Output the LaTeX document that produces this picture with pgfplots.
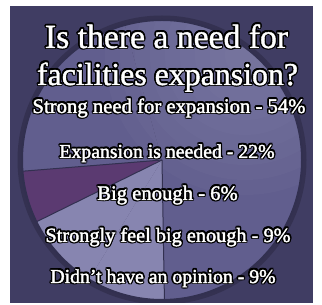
\documentclass[border=0pt]{standalone}
\usepackage{pgfplots}
\pgfplotsset{compat=1.18}
\usepackage{pgfplotstable}
\usepackage{fontspec}
\setmainfont{Liberation Serif}

\definecolor{bgc}{RGB}{64,61,99}
\definecolor{sliceA}{RGB}{97,94,142}
\definecolor{sliceB}{RGB}{91,58,113}
\definecolor{sliceC}{RGB}{135,133,176}
\definecolor{edgec}{RGB}{50,48,80}

% pie data: label, percent, colour, draw edge at slice start, label width, label centre x, label baseline y (picture px, y up)
\pgfplotstableread[col sep=comma]{
label,pct,col,edge,w,cx,by
Strong need for expansion,54,sliceA,1,274,169,192
Expansion is needed,22,sliceA,0,216,167,147
Big enough,6,sliceB,1,141,167.5,105
Strongly feel big enough,9,sliceC,1,246,168,63
Didn’t have an opinion,9,sliceC,0,226,163,22
}\piedata

\newlength\tmpw
\newsavebox\tmpbox
\newcommand\outlined[4]{% x, y, width, text
  \pgfinterruptpicture
    \global\setbox\tmpbox=\hbox{\normalfont\fontsize{10}{12}\selectfont #4}%
  \endpgfinterruptpicture
  \tmpw=\wd\tmpbox
  \pgfmathsetmacro\fs{10*#3/\tmpw}%
  \foreach \a in {0,22.5,...,337.5}{%
    \node[anchor=base,inner sep=0pt,text=black,shift={(\a:1.6bp)}] at (axis cs:#1,#2)
      {\fontsize{\fs}{\fs}\selectfont #4};}
  \node[anchor=base,inner sep=0pt,text=white] at (axis cs:#1,#2)
    {\fontsize{\fs}{\fs}\selectfont\special{pdf:literal direct 2 Tr 0.4 w 1 j 1 1 1 RG}#4\special{pdf:literal direct 0 Tr}};
}

\begin{document}
\begin{tikzpicture}
\path[use as bounding box] (0,0) rectangle (322bp,305bp);
\fill[white] (0,0) rectangle (322bp,305bp);
\begin{axis}[
  at={(0,0)}, anchor=south west,
  scale only axis, width=322bp, height=305bp,
  xmin=0, xmax=322, ymin=0, ymax=305,
  hide axis, clip=false,
]
\addplot[draw=none] coordinates {(0,0)};
\pgfplotsextra{
  \fill[bgc] (axis cs:10,2) rectangle (axis cs:313,299);
  \begin{scope}
  \clip (axis cs:10,2) rectangle (axis cs:313,299);
  % soft shadow ring
  \draw[black,opacity=0.18,line width=7bp] (axis cs:162,145) circle (141bp);
  % slices
  \pgfmathsetmacro\cum{-89}
  \pgfplotsforeachungrouped \i in {0,...,4}{%
    \pgfplotstablegetelem{\i}{pct}\of\piedata \let\slicepct\pgfplotsretval
    \pgfplotstablegetelem{\i}{col}\of\piedata \let\slicecol\pgfplotsretval
    \pgfmathsetmacro\endang{\cum+3.6*\slicepct}
    \fill[fill=\slicecol] (axis cs:162,145) -- ++(\cum:140bp) arc[start angle=\cum, end angle=\endang, radius=140bp] -- cycle;
    \let\cum\endang
  }
  % highlight top right
  \begin{scope}
    \clip (axis cs:162,145) circle (140bp);
    \foreach \r in {20,35,...,140}{\fill[white,opacity=0.02] (axis cs:245,250) circle (\r bp);}
  \end{scope}
  % edges between differently coloured slices
  \pgfmathsetmacro\cum{-89}
  \pgfplotsforeachungrouped \i in {0,...,4}{%
    \pgfplotstablegetelem{\i}{pct}\of\piedata \let\slicepct\pgfplotsretval
    \pgfplotstablegetelem{\i}{edge}\of\piedata \let\sliceedge\pgfplotsretval
    \ifnum\sliceedge=1
      \draw[edgec,line width=1bp] (axis cs:162,145) -- ++(\cum:140bp);
    \fi
    \pgfmathsetmacro\cum{\cum+3.6*\slicepct}
  }
  \draw[edgec,line width=2bp] (axis cs:162,145) circle (140bp);
  \end{scope}
  % title
  \outlined{166.5}{257}{244}{Is there a need for}
  \outlined{167.5}{220}{262}{facilities expansion?}
  % labels from the table
  \pgfplotsforeachungrouped \i in {0,...,4}{%
    \pgfplotstablegetelem{\i}{label}\of\piedata \let\slicelab\pgfplotsretval
    \pgfplotstablegetelem{\i}{pct}\of\piedata \let\slicepct\pgfplotsretval
    \pgfplotstablegetelem{\i}{w}\of\piedata \let\slicew\pgfplotsretval
    \pgfplotstablegetelem{\i}{cx}\of\piedata \let\slicecx\pgfplotsretval
    \pgfplotstablegetelem{\i}{by}\of\piedata \let\sliceby\pgfplotsretval
    \edef\doit{\noexpand\outlined{\slicecx}{\sliceby}{\slicew}{\expandafter\unexpanded\expandafter{\slicelab} - \slicepct\noexpand\%}}%
    \doit
  }
}
\end{axis}
\end{tikzpicture}
\end{document}
